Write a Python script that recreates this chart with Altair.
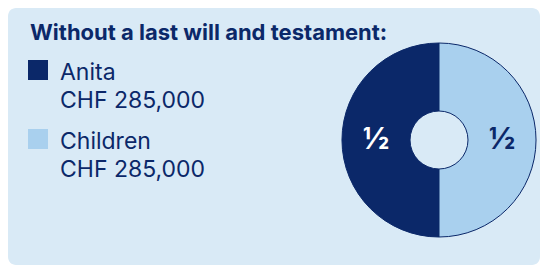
import altair as alt
import pandas as pd

title_text = "Without a last will and testament:"
names = ["Anita", "Children"]
amounts = ["CHF 285,000", "CHF 285,000"]
shares = [0.5, 0.5]
share_labels = ["½", "½"]
slice_order = [1, 0]          # Children drawn first (right half), Anita second (left half)
legend_rows = [0, 1]
colors = ["#0b2869", "#a9d0ee"]
label_colors = ["#ffffff", "#0b2869"]

NAVY = "#0b2869"
BG = "#d9eaf6"
FONT = "Inter"

df = pd.DataFrame({
    "name": names,
    "amount": amounts,
    "share": shares,
    "label": share_labels,
    "order": slice_order,
    "row": legend_rows,
    "labelColor": label_colors,
})

color_scale = alt.Scale(domain=names, range=colors)
base = alt.Chart(df)

cx, cy = 431, 132

pie = base.mark_arc(outerRadius=97, innerRadius=29, stroke=NAVY, strokeWidth=1).encode(
    theta=alt.Theta("share:Q", stack=True),
    order=alt.Order("order:Q"),
    color=alt.Color("name:N", scale=color_scale, legend=None),
    x=alt.value(cx), y=alt.value(cy),
)

pie_labels = base.mark_text(radius=63, font=FONT, fontSize=30, fontWeight="bold",
                            align="center", baseline="middle").encode(
    theta=alt.Theta("share:Q", stack=True),
    order=alt.Order("order:Q"),
    text="label:N",
    color=alt.Color("labelColor:N", scale=None),
    x=alt.value(cx), y=alt.value(cy),
)

row_y = alt.Y("row:Q", scale=alt.Scale(domain=[0, 1], range=[62, 131]), axis=None)

squares = base.mark_square(size=400, opacity=1).encode(
    x=alt.value(30), y=row_y,
    color=alt.Color("name:N", scale=color_scale, legend=None),
)

name_text = base.mark_text(font=FONT, fontSize=23, align="left", baseline="alphabetic",
                           color=NAVY, dy=10).encode(
    x=alt.value(52), y=row_y, text="name:N",
)
amount_text = base.mark_text(font=FONT, fontSize=23, align="left", baseline="alphabetic",
                             color=NAVY, dy=38).encode(
    x=alt.value(52), y=row_y, text="amount:N",
)

title = alt.Chart(pd.DataFrame({"t": [title_text]})).mark_text(
    font=FONT, fontSize=22, fontWeight="bold", align="left", baseline="alphabetic", color=NAVY
).encode(x=alt.value(22), y=alt.value(32), text="t:N")

chart = alt.layer(pie, pie_labels, squares, name_text, amount_text, title).properties(
    width=532, height=257, padding=0, autosize=alt.AutoSizeParams(type="none"),
    background="#ffffff",
).configure_view(fill=BG, cornerRadius=8, strokeWidth=0)

chart.save("out.html", embed_options={"renderer": "svg", "actions": False})
